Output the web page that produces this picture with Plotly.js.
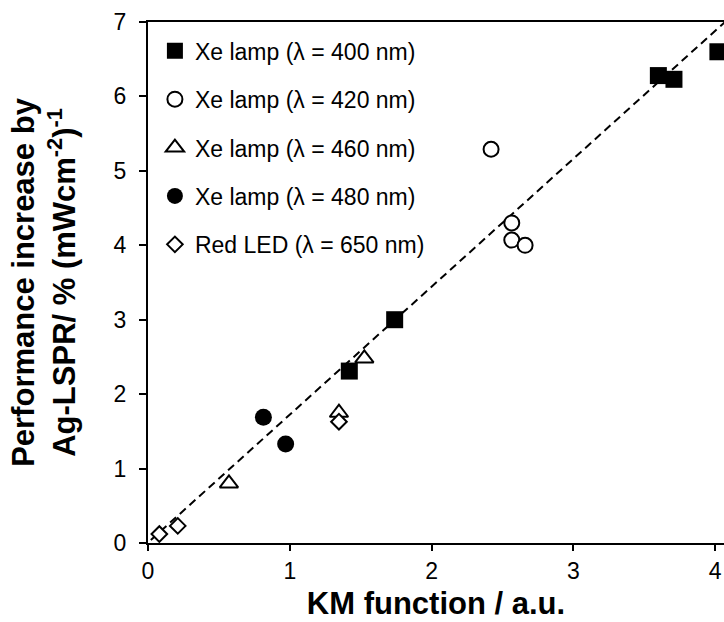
<!DOCTYPE html>
<html>
<head>
<meta charset="utf-8">
<script src="https://cdn.plot.ly/plotly-3.0.1.min.js"></script>
<style>html,body{margin:0;padding:0;background:#fff;overflow:hidden}#chart{width:724px;height:622px}</style>
</head>
<body>
<div id="chart"></div>
<script>
// Series (KM function, performance increase)
const seriesNames = ["Xe lamp (λ = 400 nm)", "Xe lamp (λ = 420 nm)", "Xe lamp (λ = 460 nm)", "Xe lamp (λ = 480 nm)", "Red LED (λ = 650 nm)"];
const x400 = [1.42, 1.74, 3.60, 3.71, 4.02];
const y400 = [2.31, 3.00, 6.28, 6.23, 6.60];
const x420 = [2.42, 2.566, 2.566, 2.66];
const y420 = [5.29, 4.30, 4.07, 4.00];
const x460 = [0.571, 1.526, 1.347];
const y460 = [0.80, 2.48, 1.75];
const x480 = [0.814, 0.971];
const y480 = [1.69, 1.33];
const x650 = [0.08, 0.21, 1.347];
const y650 = [0.12, 0.23, 1.63];
// Linear trend (dashed)
const trendX = [0.02, 4.07];
const trendY = [0.04, 7.0];
const xTicks = [0, 1, 2, 3, 4];
const yTicks = [0, 1, 2, 3, 4, 5, 6, 7];

const FONT = "Arial, 'Liberation Sans', sans-serif";
const open = (sym, size) => ({symbol: sym, size: size, color: "#ffffff", line: {color: "#000", width: 2}});
const filled = (sym, size) => ({symbol: sym, size: size, color: "#000", line: {color: "#000", width: 0}});

const traces = [
  {x: trendX, y: trendY, mode: "lines", line: {color: "#000", width: 2, dash: "8px,5px"}, showlegend: false, hoverinfo: "skip"},
  {x: x400, y: y400, mode: "markers", name: seriesNames[0], legendgroup: "a", marker: filled("square", 17)},
  {x: x420, y: y420, mode: "markers", name: seriesNames[1], legendgroup: "b", marker: open("circle", 15)},
  {x: x460, y: y460, mode: "markers", name: seriesNames[2], legendgroup: "c", marker: open("triangle-up", 16)},
  {x: x480, y: y480, mode: "markers", name: seriesNames[3], legendgroup: "d", marker: filled("circle", 17)},
  {x: x650, y: y650, mode: "markers", name: seriesNames[4], legendgroup: "e", marker: open("diamond", 12)}
];

const layout = {
  width: 724, height: 622,
  margin: {l: 148, r: 0, t: 22, b: 79},
  paper_bgcolor: "#fff", plot_bgcolor: "#fff",
  font: {family: FONT, color: "#000", size: 23},
  showlegend: true,
  legend: {
    x: 0.012, y: 0.986, xanchor: "left", yanchor: "top",
    font: {family: FONT, size: 23, color: "#000"},
    bgcolor: "rgba(0,0,0,0)", borderwidth: 0,
    traceorder: "grouped", tracegroupgap: 15.5
  },
  xaxis: {
    range: [0, 4.063], tickvals: xTicks, ticktext: xTicks.map(String),
    showline: true, linecolor: "#000", linewidth: 2, mirror: true,
    ticks: "outside", ticklen: 6, tickwidth: 2, tickcolor: "#000",
    showgrid: false, zeroline: false, ticklabelstandoff: 0,
    tickfont: {family: FONT, size: 23, color: "#000"},
    title: {text: "<b>KM function / a.u.</b>", font: {family: FONT, size: 31, color: "#000"}, standoff: 10}
  },
  yaxis: {
    range: [0, 7], tickvals: yTicks, ticktext: yTicks.map(String),
    showline: true, linecolor: "#000", linewidth: 2,
    ticks: "outside", ticklen: 7, tickwidth: 2, tickcolor: "#000",
    showgrid: false, zeroline: false, ticklabelstandoff: 8,
    tickfont: {family: FONT, size: 23, color: "#000"},
    title: {text: "<b>Performance increase by<br>Ag-LSPR/ % (mWcm<sup>-2</sup>)<sup>-1</sup></b>", font: {family: FONT, size: 31, color: "#000"}, standoff: 29}
  }
};

Plotly.newPlot("chart", traces, layout, {displayModeBar: false, staticPlot: true});
</script>
</body>
</html>
